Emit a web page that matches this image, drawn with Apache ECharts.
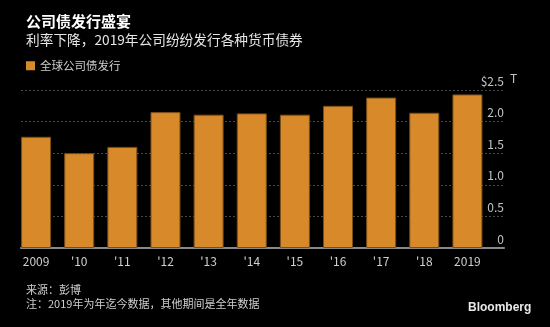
<!DOCTYPE html>
<html><head><meta charset="utf-8">
<script src="https://cdn.jsdelivr.net/npm/echarts@6/dist/echarts.min.js"></script>
<style>html,body{margin:0;padding:0;background:#000;}#c{width:550px;height:327px;}</style>
</head><body><div id="c"></div>
<script>
const categories = ['2009', "'10", "'11", "'12", "'13", "'14", "'15", "'16", "'17", "'18", '2019'];
const issuance = [1.76, 1.50, 1.60, 2.15, 2.11, 2.13, 2.11, 2.25, 2.38, 2.14, 2.43];
const yTicks = [0, 0.5, 1.0, 1.5, 2.0, 2.5];
const seriesName = '全球公司债发行';

const FONT = '"Noto Sans CJK SC", "Noto Sans", sans-serif';
const chart = echarts.init(document.getElementById('c'));
chart.setOption({
  backgroundColor: '#000',
  animation: false,
  textStyle: { fontFamily: FONT },
  title: [
    { text: '公司债发行盛宴', left: 21, top: 9, textStyle: { color: '#fff', fontSize: 15, fontWeight: 'bold', fontFamily: FONT } },
    { text: '利率下降，2019年公司纷纷发行各种货币债券', left: 21, top: 28, textStyle: { color: '#e6e6e6', fontSize: 13.7, fontWeight: 'normal', fontFamily: FONT } },
    { text: '来源：彭博', left: 21, top: 279, textStyle: { color: '#cfcfcf', fontSize: 11, fontWeight: 'normal', fontFamily: FONT } },
    { text: '注：2019年为年迄今数据，其他期间是全年数据', left: 21, top: 293, textStyle: { color: '#cfcfcf', fontSize: 11, fontWeight: 'normal', fontFamily: FONT } },
    { text: 'Bloomberg', left: 463, top: 297, textStyle: { color: '#e8e8e8', fontSize: 12, fontWeight: 'bold', fontFamily: 'Liberation Sans, Arial, sans-serif' } }
  ],
  legend: {
    left: 21, top: 55, itemWidth: 9, itemHeight: 9, icon: 'rect',
    itemStyle: { borderWidth: 0 },
    textStyle: { color: '#cfcfcf', fontSize: 11.5, fontFamily: FONT },
    data: [seriesName]
  },
  graphic: [
    { type: 'text', left: 510, top: 72, style: { text: 'T', fill: '#c4c4c4', font: '12px ' + FONT } }
  ],
  grid: [
    { left: 21, right: 46, top: 90, bottom: 79 },
    { left: 14.5, right: 61, top: 90, bottom: 79 }
  ],
  xAxis: [
    { gridIndex: 0, type: 'category', data: categories, axisLine: { show: true, lineStyle: { color: '#8a8a8a', width: 2 } }, axisTick: { show: false }, axisLabel: { show: false } },
    { gridIndex: 1, type: 'category', data: categories, axisLine: { show: false }, axisTick: { show: false },
      axisLabel: { color: '#cfcfcf', fontSize: 12, margin: 7, fontFamily: FONT } }
  ],
  yAxis: [
    { gridIndex: 0, type: 'value', position: 'right', min: 0, max: 2.5, interval: 0.5,
      axisLine: { show: false }, axisTick: { show: false },
      splitLine: { show: true, lineStyle: { color: '#4a4a4a', type: [2, 2], width: 1 } },
      axisLabel: { inside: true, margin: 0, color: '#c4c4c4', fontSize: 12, verticalAlign: 'bottom', padding: [0, 0, 3, 0], fontFamily: FONT,
        formatter: v => v === 0 ? '0' : (v === 2.5 ? '$2.5' : v.toFixed(1)) } },
    { gridIndex: 1, type: 'value', min: 0, max: 2.5, show: false, splitLine: { show: false } }
  ],
  series: [{
    name: seriesName, type: 'bar', xAxisIndex: 1, yAxisIndex: 1, data: issuance, barWidth: 30,
    itemStyle: { color: '#d88a2a', borderColor: '#7a4f18', borderWidth: 1 }, z: 3
  }]
});
</script></body></html>
